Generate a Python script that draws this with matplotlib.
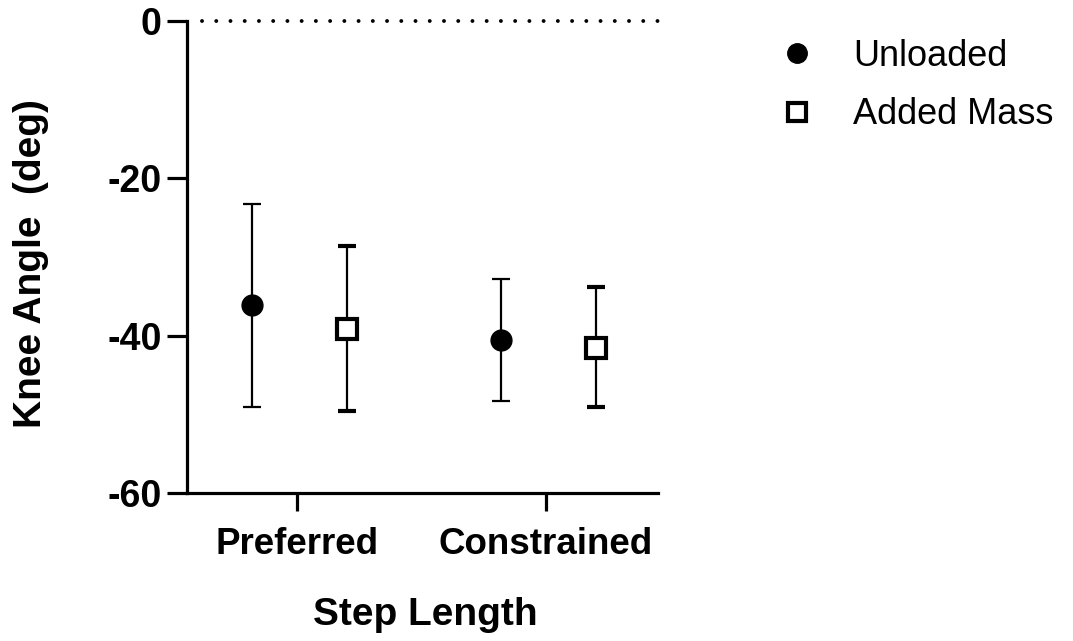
import matplotlib
matplotlib.use("Agg")
import matplotlib.pyplot as plt
from matplotlib.lines import Line2D
import numpy as np

plt.rcParams['font.family'] = ['Liberation Sans', 'DejaVu Sans']

categories = ["Preferred", "Constrained"]
unloaded_mean = [-36.1, -40.5]
unloaded_top = [-23.3, -32.8]
unloaded_bottom = [-49.1, -48.3]
added_mean = [-39.1, -41.5]
added_top = [-28.6, -33.8]
added_bottom = [-49.5, -49.1]
yticks = [0, -20, -40, -60]

fig = plt.figure(figsize=(10.73, 6.41), dpi=100)
ax = fig.add_axes([0.1743, 0.2304, 0.6132 - 0.1743, 0.9677 - 0.2304])

x = np.arange(len(categories))
off_u, off_a = -0.18, 0.20

def err(mean, top, bottom):
    m = np.array(mean); t = np.array(top); b = np.array(bottom)
    return [m - b, t - m]

ax.errorbar(x + off_u, unloaded_mean, yerr=err(unloaded_mean, unloaded_top, unloaded_bottom),
            fmt='o', color='black', ms=15, elinewidth=1.6, capsize=6.7, capthick=1.6,
            zorder=3)
ax.errorbar(x + off_a, added_mean, yerr=err(added_mean, added_top, added_bottom),
            fmt='s', color='black', mfc='white', mec='black', mew=3, ms=14, elinewidth=1.6,
            capsize=6.7, capthick=1.6, zorder=3)

ax.plot([-0.38, 1.449], [0, 0], color='black', lw=2.8, ls=(0, (0.01, 3.65)),
        dash_capstyle='round', zorder=1, clip_on=False)

ax.set_xlim(-0.44, 1.449)
ax.set_ylim(-60, 0)
ax.set_yticks(yticks)
ax.set_yticklabels([str(v) for v in yticks])
ax.set_xticks(x)
ax.set_xticklabels(categories)

for s in ['top', 'right']:
    ax.spines[s].set_visible(False)
for s in ['left', 'bottom']:
    ax.spines[s].set_linewidth(2.3)
ax.tick_params(axis='y', length=14.4, width=2.3, labelsize=27, pad=4)
ax.tick_params(axis='x', length=13, width=2.3, labelsize=26.5, pad=11)
for lab in ax.get_xticklabels() + ax.get_yticklabels():
    lab.set_fontweight('bold')

ax.set_xlabel('Step Length', fontsize=28, fontweight='bold')
ax.xaxis.set_label_coords(0.505, -0.2194)
ax.set_ylabel('Knee Angle  (deg)', fontsize=28, fontweight='bold')
ax.yaxis.set_label_coords(-0.293, 0.487)

handles = [Line2D([], [], ls='none', marker='o', color='black', ms=14),
           Line2D([], [], ls='none', marker='s', mfc='white', mec='black', mew=3, ms=12.5)]
fig.legend(handles, ['Unloaded', 'Added Mass'], loc='upper left',
           bbox_to_anchor=(0.6925, 0.9903), frameon=False, fontsize=26,
           handletextpad=0.95, labelspacing=0.65, handlelength=1.2)

fig.savefig('out.png', dpi=100)
